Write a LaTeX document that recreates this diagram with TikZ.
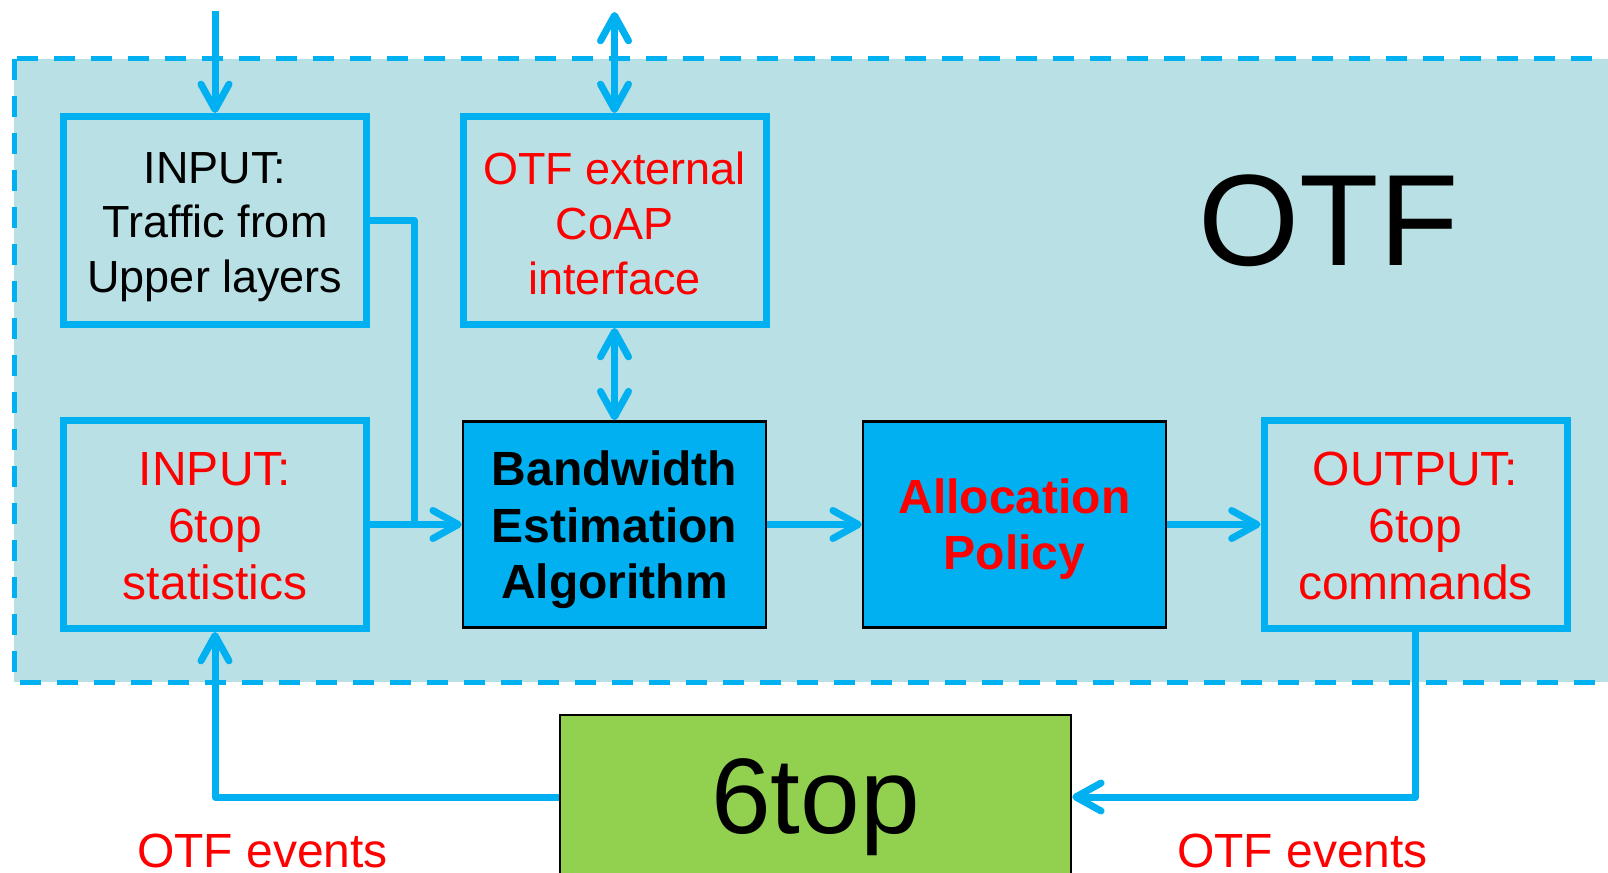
\documentclass[tikz,border=0pt]{standalone}
\usepackage{fontspec}
\setmainfont{Liberation Sans}
\usetikzlibrary{arrows.meta}
\definecolor{otfbg}{RGB}{185,224,228}
\definecolor{otfblue}{RGB}{0,176,240}
\definecolor{otfgreen}{RGB}{146,208,80}
\definecolor{otfred}{RGB}{255,0,0}
\begin{document}
\begin{tikzpicture}[x=0.75pt,y=-0.75pt,
  >={Straight Barb[length=19pt,width=21pt,round]},
  wire/.style={draw=otfblue,line width=5.25pt,line join=round},
  inbox/.style={draw=otfblue,line width=5.25pt,fill=otfbg,minimum width=227.25pt,minimum height=156pt,inner sep=0pt},
  solidbox/.style={draw=black,line width=1.9pt,fill=otfblue,minimum width=227.25pt,minimum height=154.5pt,inner sep=0pt},
  smalltext/.style={anchor=north,inner sep=0pt,align=center,font=\fontsize{33.75}{41}\selectfont},
  midtext/.style={anchor=north,inner sep=0pt,align=center,font=\fontsize{36}{42.75}\selectfont},
  boldtext/.style={anchor=north,inner sep=0pt,align=center,font=\bfseries\fontsize{36}{42.5}\selectfont},
  evlabel/.style={text=otfred,anchor=base,inner sep=0pt,font=\fontsize{36}{42}\selectfont}]
\useasboundingbox (0,0) rectangle (1608,873);
\clip (0,0) rectangle (1608,873);
% OTF region
\draw[draw=otfblue,fill=otfbg,line width=3.75pt,dash pattern=on 15.75pt off 12pt] (14,59) rectangle (1660,682);
\node[anchor=base,inner sep=0pt,font=\fontsize{97.5}{110}\selectfont] (otflabel) at (1328.5,266) {OTF};
% boxes
\node[inbox] (traffic) at (215,220.5) {};
\node[inbox] (coap) at (614.5,220.5) {};
\node[inbox] (stats) at (215,524.5) {};
\node[solidbox] (bw) at (614.5,524.5) {};
\node[solidbox] (alloc) at (1014.5,524.5) {};
\node[inbox] (out) at (1415.5,524.5) {};
\node[draw=black,line width=1.9pt,fill=otfgreen,minimum width=383.25pt,minimum height=123pt,inner sep=0pt,text height=57.75pt,text depth=3.75pt,font=\fontsize{80.5}{90}\selectfont] (sixtop) at (815.5,797) {6top};
% box texts
\node[smalltext] (trafficText) at (215,152) {INPUT:\\Traffic from\\Upper layers};
\node[smalltext,text=otfred] (coapText) at (614.5,152) {OTF external\\CoAP\\interface};
\node[midtext,text=otfred] (statsText) at (215,452) {INPUT:\\6top\\statistics};
\node[boldtext] (bwText) at (614.5,450.5) {Bandwidth\\Estimation\\Algorithm};
\node[boldtext,text=otfred] (allocText) at (1014.5,478) {Allocation\\Policy};
\node[midtext,text=otfred] (outText) at (1415.5,452) {OUTPUT:\\6top\\commands};
% labels
\node[evlabel] (evleft) at (262.5,867) {OTF events};
\node[evlabel] (evright) at (1302.5,867) {OTF events};
% connectors
\coordinate (topin) at (215,11);
\coordinate (topcoap) at (614.5,12);
\coordinate (join) at (414,524.5);
\draw[wire,->] (topin) -- (traffic.north);
\draw[wire,<->] (topcoap) -- (coap.north);
\draw[wire,<->] (coap.south) -- (bw.north);
\draw[wire] (traffic.east) -| (join);
\draw[wire,->] (stats.east) -- (bw.west);
\draw[wire,->] (bw.east) -- (alloc.west);
\draw[wire,->] (alloc.east) -- (out.west);
\draw[wire,->] (out.south) |- (sixtop.east);
\draw[wire,->] (sixtop.west) -| (stats.south);
\end{tikzpicture}
\end{document}
